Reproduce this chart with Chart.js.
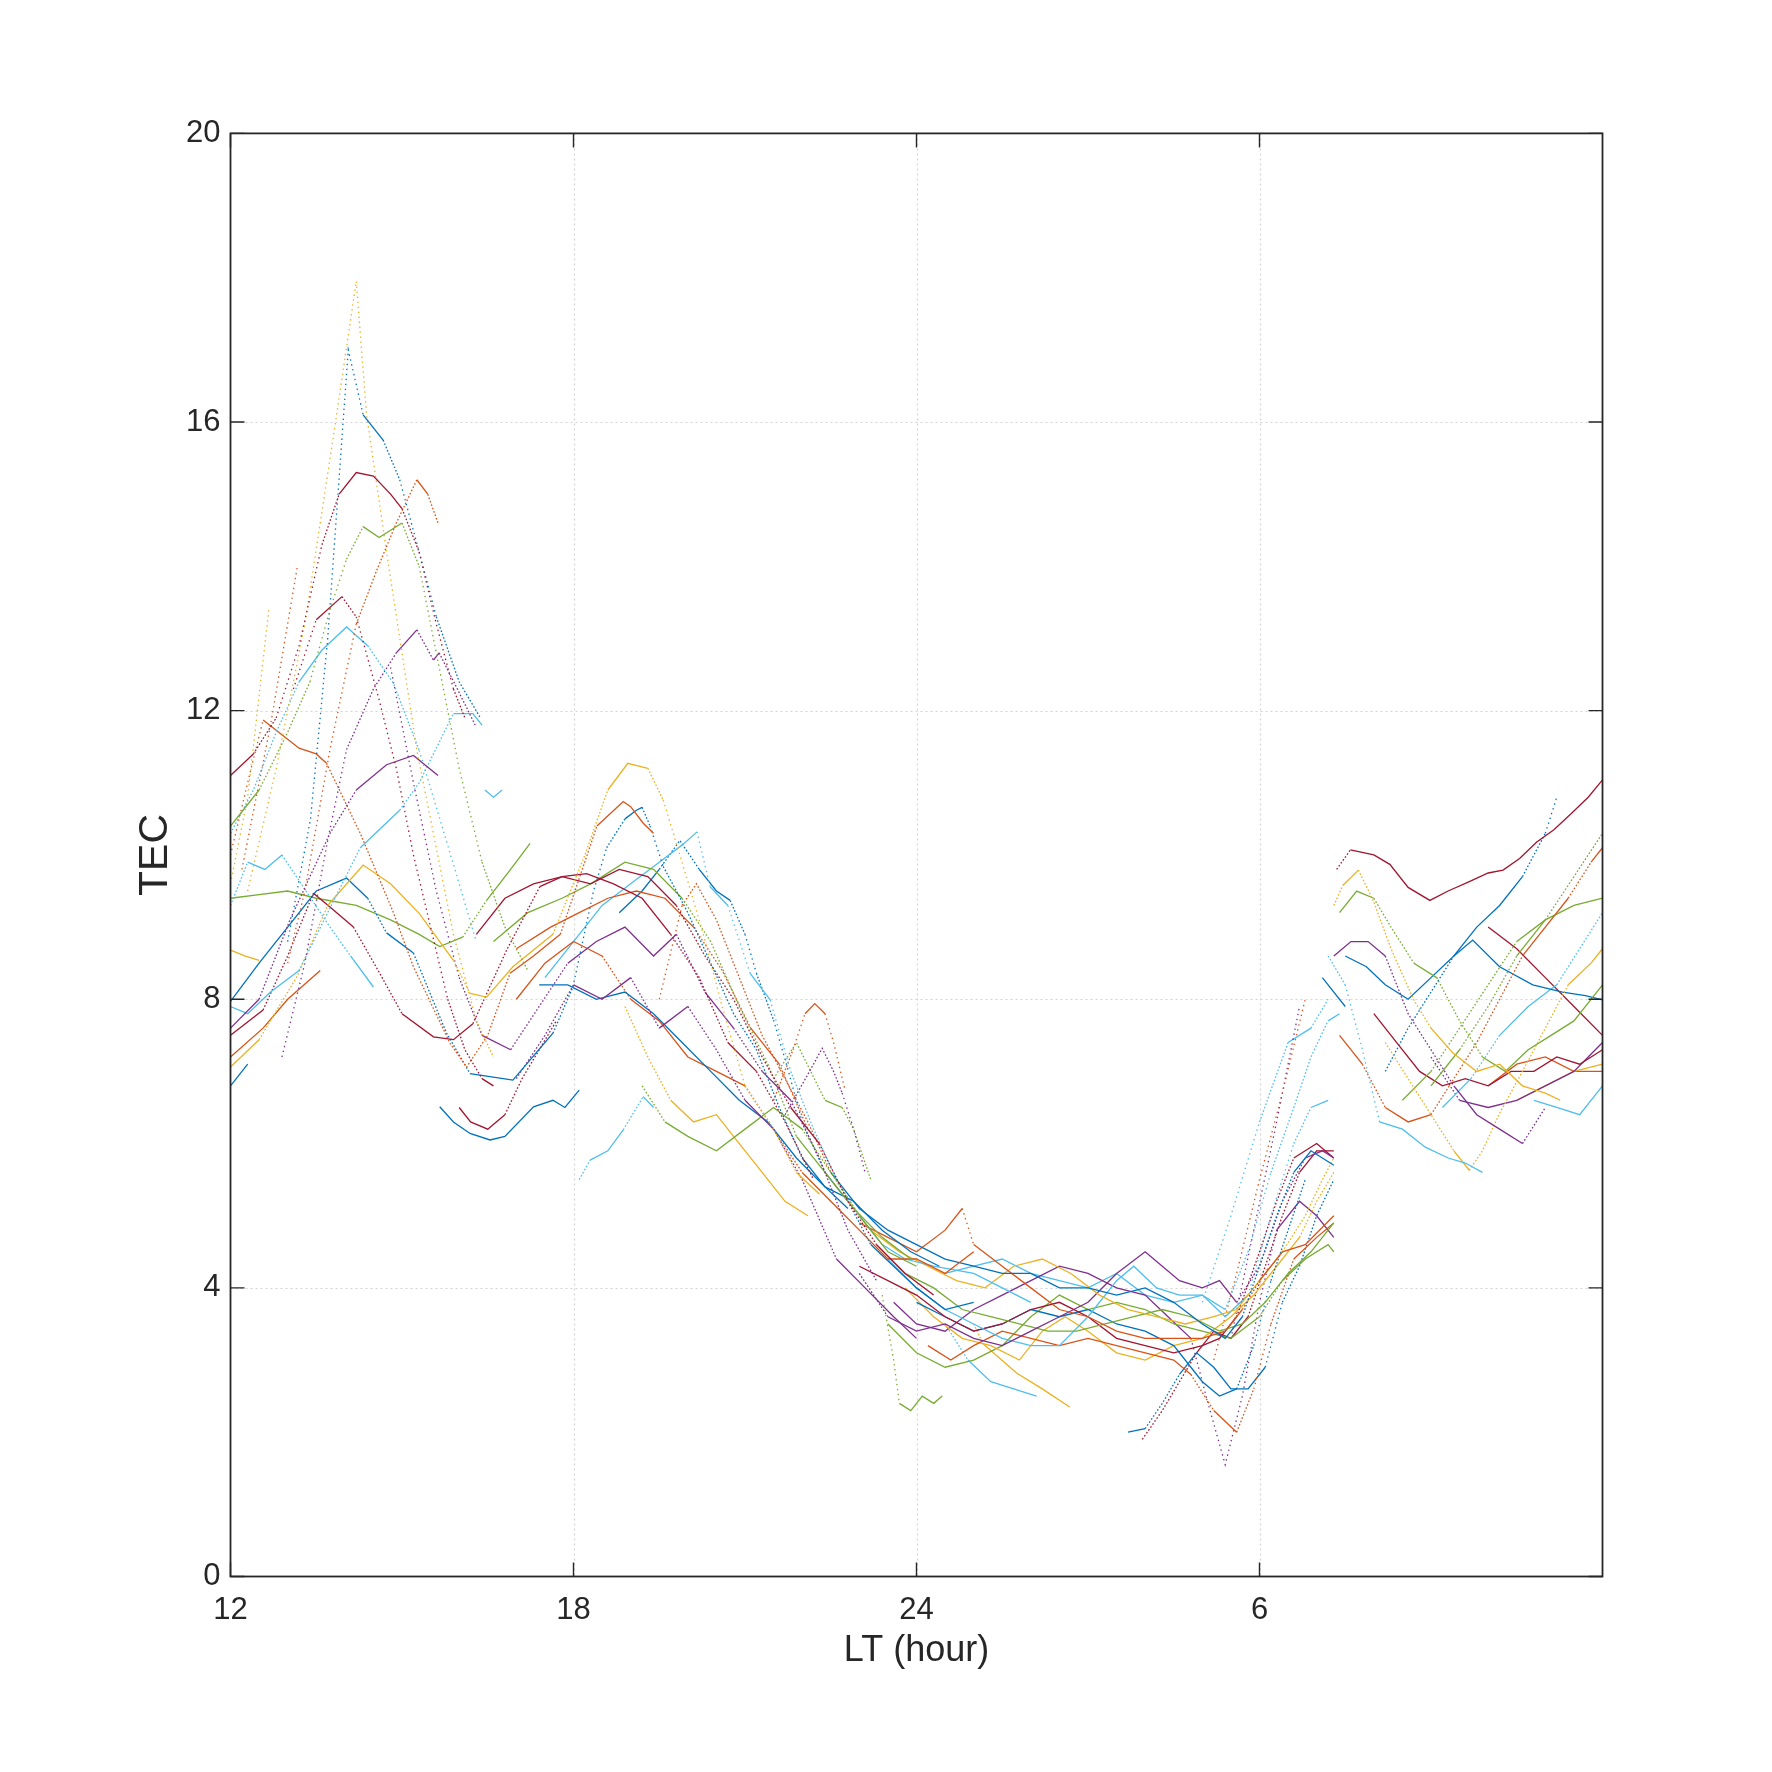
<!DOCTYPE html>
<html>
<head>
<meta charset="utf-8">
<script src="https://cdn.jsdelivr.net/npm/chart.js@4.4.1/dist/chart.umd.min.js"></script>
<style>
html,body{margin:0;padding:0;background:#fff;}
canvas{display:block;}
</style>
</head>
<body>
<canvas id="c" width="1772" height="1772"></canvas>
<script>
// ---------------- DATA ----------------
const xTickValues = [12, 18, 24, 30];
const xTickLabels = ['12', '18', '24', '6'];
const yTickValues = [0, 4, 8, 12, 16, 20];
const xTitle = 'LT (hour)';
const yTitle = 'TEC';

// afternoon arcs  [LT hour, TEC]
const s01 = [[12,11.1],[12.4,11.4],[12.8,11.9],[13.2,12.9],[13.6,14.3],[13.9,15.0],[14.2,15.3],[14.5,15.25],[14.8,15.0],[15.0,14.8],[15.3,14.2],[15.6,13.2],[15.9,12.3],[16.1,11.9]];
const s02 = [[12,10.4],[12.5,10.9],[13.0,11.7],[13.39,12.4],[13.74,13.4],[14.03,14.1],[14.32,14.55],[14.6,14.4],[15.0,14.6],[15.3,14.0],[15.6,12.8],[16.0,11.2],[16.4,9.9],[16.8,9.0],[17.2,8.4]];
const s03 = [[13.0,8.5],[13.3,9.5],[13.74,11.46],[14.2,13.2],[14.56,13.95],[14.9,14.6],[15.26,15.2],[15.45,15.0],[15.63,14.6]];
const s04 = [[13.0,8.8],[13.4,10.5],[13.7,13.0],[14.06,17.0],[14.32,16.1],[14.67,15.75],[14.96,15.2],[15.3,14.2],[15.6,13.3],[16.0,12.4],[16.37,11.9]];
const s05 = [[12.3,9.5],[12.8,11.2],[13.3,13.2],[13.8,15.8],[14.2,17.95],[14.38,16.1],[14.73,14.2],[15.26,11.45],[15.9,8.9],[16.3,7.7],[16.6,7.2]];
const s06 = [[13.1,12.3],[13.5,13.26],[13.95,13.58],[14.2,13.3],[14.6,12.15],[14.9,11.2],[15.2,10.0],[15.5,9.0],[15.8,8.0],[16.1,7.3],[16.4,6.9],[16.6,6.8]];
const s07 = [[12,10.3],[12.4,10.9],[12.8,11.7],[13.2,12.4],[13.6,12.84],[14.03,13.16],[14.4,12.9],[14.85,12.38],[15.3,11.45],[15.7,10.4],[16.0,9.6],[16.3,8.8]];
const s08 = [[12.9,7.2],[13.3,8.5],[13.7,10.2],[14.03,11.46],[14.5,12.3],[14.9,12.8],[15.26,13.12],[15.55,12.7],[15.65,12.8],[16.0,12.25],[16.28,11.8]];
const s09 = [[12,7.6],[12.5,8.0],[13.04,9.1],[13.74,10.3],[14.2,10.9],[14.73,11.25],[15.2,11.38],[15.63,11.1]];
const s10 = [[12,10.0],[12.3,11.0],[12.57,11.87],[13.2,11.48],[13.5,11.4],[13.68,11.27],[14.27,10.3],[14.85,9.2],[15.2,8.45],[15.84,7.39],[16.13,7.06],[16.5,7.5],[16.89,8.36],[17.3,8.6],[17.77,8.9],[18.17,9.84],[18.41,10.4],[18.87,10.74],[19.0,10.67],[19.22,10.44],[19.4,10.3]];
const s11 = [[12,7.9],[12.3,7.8],[12.7,8.1],[13.2,8.4],[13.7,9.2],[14.27,10.1],[14.96,10.62],[15.3,11.0],[15.9,11.96],[16.24,11.96],[16.4,11.8]];
const s12 = [[12,9.3],[12.3,9.9],[12.6,9.8],[12.9,10.0],[13.27,9.56],[13.74,9.0],[14.1,8.6],[14.5,8.17]];
const s13 = [[12,7.06],[12.5,7.44],[13.16,8.31],[13.7,9.3],[14.32,9.86],[14.8,9.6],[15.3,9.19],[15.9,8.54],[16.19,8.08],[16.48,8.03],[16.94,8.45],[17.64,8.9],[18.2,10.0],[18.6,10.9],[18.95,11.27],[19.3,11.2],[19.57,10.76],[19.8,10.16],[20.05,9.5],[20.27,8.9],[20.6,7.9],[21.0,6.8],[21.5,6.2],[21.9,5.6],[22.3,5.3]];
const s14 = [[12,7.5],[12.57,7.85],[13.0,8.6],[13.45,9.47],[13.74,9.28],[14.15,9.0],[14.61,8.36],[15.0,7.8],[15.55,7.48],[15.9,7.44],[16.24,7.66],[16.83,8.68],[17.41,9.56],[17.8,9.7],[18.23,9.74],[18.7,9.6],[19.2,9.4],[19.7,8.9],[20.2,8.3],[20.7,7.4],[21.2,7.0],[21.7,6.3],[22.2,5.5]];
const s15 = [[12,7.97],[12.5,8.5],[13.0,9.0],[13.5,9.5],[14.03,9.68],[14.4,9.4],[14.73,8.92],[15.2,8.64],[15.78,7.53],[16.19,6.97],[16.94,6.88],[17.64,7.53],[17.99,8.17],[18.35,9.5],[18.58,10.1],[18.9,10.5],[19.1,10.62],[19.2,10.66],[19.34,10.4],[19.57,9.84],[19.8,9.5],[20.0,9.2],[20.4,8.5],[20.8,7.8],[21.2,7.3],[21.6,6.5],[22.0,5.8],[22.4,5.4],[22.8,5.1]];
const s16 = [[12,9.4],[12.5,9.45],[13.0,9.5],[13.5,9.4],[14.2,9.3],[14.8,9.1],[15.3,8.9],[15.66,8.73],[16.06,8.86],[16.48,9.37],[16.9,9.8],[17.24,10.16]];
const s17 = [[12,8.68],[12.25,8.6],[12.5,8.54]];
const s18 = [[12,7.2],[12.57,7.6],[13.0,8.0],[13.57,8.4]];
const s19 = [[12,6.8],[12.3,7.1]];
const s20 = [[12,9.6],[12.3,10.8],[12.67,13.4]];
const s21 = [[12.2,9.8],[12.7,11.8],[13.17,14.0]];
const s22 = [[15.66,6.51],[15.9,6.3],[16.19,6.14],[16.54,6.05],[16.8,6.1],[17.3,6.51],[17.64,6.6],[17.85,6.5],[18.1,6.74]];
const s23 = [[16.0,6.5],[16.2,6.3],[16.5,6.2],[16.8,6.4],[17.1,6.9],[17.4,7.3],[17.7,7.7]];
const s24 = [[16.45,10.9],[16.6,10.8],[16.75,10.9]];
const s25 = [[14.8,12.6],[15.2,11.0],[15.6,9.5],[16.0,8.3],[16.4,7.5],[16.9,7.3],[17.4,7.9],[17.9,8.5],[18.4,8.8],[18.9,9.0],[19.4,8.6],[19.8,8.9],[20.3,8.1],[20.8,7.6],[21.3,7.0],[21.8,6.6],[22.3,5.8],[22.8,4.8],[23.3,4.1]];

// evening arcs
const s26 = [[16.3,8.9],[16.8,9.4],[17.3,9.6],[17.8,9.7],[18.3,9.6],[18.8,9.8],[19.3,9.7],[19.8,9.3],[20.3,8.6],[20.8,8.0],[21.3,7.2],[21.8,6.5],[22.3,6.0],[22.8,5.2],[23.3,4.6],[23.8,4.2],[24.3,3.9]];
const s27 = [[16.6,8.8],[17.2,9.2],[17.8,9.4],[18.3,9.6],[18.9,9.9],[19.4,9.8],[19.9,9.4],[20.4,8.8],[20.9,7.9],[21.4,7.1],[21.9,6.1],[22.4,5.6],[22.9,5.1],[23.4,4.7],[23.9,4.4]];
const s28 = [[17.0,8.7],[17.6,9.0],[18.1,9.2],[18.6,9.4],[19.1,9.5],[19.6,9.4],[20.1,9.0],[20.6,8.4],[21.1,7.6],[21.6,7.1],[22.1,6.2]];
const s29 = [[17.0,6.9],[17.5,7.5],[18.0,8.2],[18.5,8.0],[19.0,8.3],[19.5,7.6],[20.0,7.9],[20.5,7.3],[21.0,6.6],[21.5,6.2],[22.0,5.5],[22.6,4.4],[23.1,4.0],[23.6,3.6],[24.0,3.3]];
const s30 = [[17.4,8.2],[17.9,8.2],[18.4,8.0],[18.9,8.1],[19.4,7.8],[19.9,7.4],[20.4,7.0],[20.9,6.6],[21.4,6.3],[21.9,5.8],[22.4,5.4],[22.9,5.2],[23.4,4.8],[23.9,4.5],[24.4,4.3]];
const s31 = [[17.0,8.0],[17.5,8.5],[18.0,8.8],[18.5,8.6],[19.0,8.0],[19.5,7.7],[20.0,7.2],[20.5,7.0],[21.0,6.8],[21.5,6.2],[22.0,5.6],[22.5,5.2],[23.0,4.8],[23.5,4.4],[24.0,4.4],[24.5,4.2],[25.0,4.5]];
const s32 = [[19.2,6.8],[19.6,6.3],[20.0,6.1],[20.5,5.9],[21.0,6.2],[21.5,6.5],[22.0,6.2],[22.5,5.6],[23.0,5.0],[23.5,4.5],[24.0,4.3]];
const s33 = [[18.9,7.9],[19.3,7.2],[19.7,6.6],[20.1,6.3],[20.5,6.4],[20.9,6.0],[21.3,5.6],[21.7,5.2],[22.1,5.0]];
const s34 = [[18.1,5.5],[18.29,5.77],[18.6,5.9],[18.87,6.19],[19.22,6.65],[19.4,6.5]];
const s35 = [[17.5,8.3],[18.0,8.8],[18.5,9.3],[19.0,9.6],[19.5,9.9],[19.92,10.15],[20.16,10.32],[20.39,9.56],[20.7,9.3],[21.09,8.36],[21.44,7.99],[21.8,7.0],[22.2,6.2],[22.6,5.5],[23.0,5.0],[23.4,4.6],[23.8,4.4],[24.3,4.3],[25.0,4.2],[25.5,4.0],[26.0,3.8]];
const s36 = [[18.8,9.2],[19.2,9.5],[19.5,9.8],[19.86,10.2],[20.2,9.8],[20.5,9.5],[20.74,9.37],[21.0,8.9],[21.2,8.36],[21.5,7.71],[21.74,7.06],[22.0,6.3],[22.4,5.6],[22.8,5.2],[23.2,4.6],[23.6,4.3],[24.0,4.0],[24.5,3.7],[25.0,3.8]];
const s37 = [[19.5,8.0],[19.9,9.3],[20.15,9.6],[20.5,9.1],[20.9,8.3],[21.3,7.5],[21.7,6.9],[22.1,6.3],[22.5,5.6]];
const s38 = [[21.5,6.6],[21.84,7.3],[22.05,7.8],[22.22,7.94],[22.4,7.8],[22.55,7.4],[22.75,6.74]];
const s39 = [[21.7,6.4],[22.08,6.93],[22.35,7.32],[22.55,7.0],[22.7,6.7],[22.9,6.2],[23.1,5.6]];
const s40 = [[21.5,6.9],[21.9,7.4],[22.15,7.0],[22.4,6.6],[22.7,6.5],[22.9,6.2],[23.2,5.5]];

// night and dawn arcs
const s41 = [[22.5,5.6],[23.0,5.1],[23.5,4.8],[24.0,4.6],[24.5,4.4],[25.0,4.3],[25.5,4.2],[26.0,4.2],[26.5,4.0],[27.0,4.0],[27.5,3.9],[28.0,4.0],[28.5,3.8],[29.0,3.5],[29.4,3.3],[29.7,3.6],[30.0,4.3],[30.3,5.0],[30.6,5.6],[30.9,5.9],[31.3,5.7]];
const s42 = [[23.0,4.9],[23.5,4.7],[24.0,4.5],[24.5,4.8],[24.8,5.1],[25.0,4.6],[25.5,4.3],[26.0,4.0],[26.5,3.7],[27.0,3.6],[27.5,3.4],[28.0,3.3],[28.5,3.3],[29.0,3.3],[29.4,3.4],[29.7,3.7],[30.0,4.1],[30.4,4.5],[30.8,4.6],[31.3,5.0]];
const s43 = [[23.2,4.8],[23.7,4.5],[24.2,4.3],[24.7,4.1],[25.2,4.0],[25.7,4.3],[26.2,4.4],[26.7,4.2],[27.2,3.9],[27.7,3.7],[28.2,3.6],[28.7,3.5],[29.2,3.6],[29.6,3.7],[30.0,4.1],[30.4,4.5],[30.8,5.0],[31.1,5.5],[31.3,5.8]];
const s44 = [[23.0,4.2],[23.5,3.6],[24.0,3.4],[24.5,3.5],[25.0,3.3],[25.5,3.2],[26.0,3.4],[26.5,3.6],[27.0,3.8],[27.5,4.2],[28.0,4.5],[28.3,4.3],[28.6,4.1],[29.0,4.0],[29.3,4.1],[29.6,3.8],[30.0,4.3],[30.4,5.2],[30.8,5.8],[31.1,5.9],[31.3,5.8]];
const s45 = [[23.3,4.6],[23.8,4.2],[24.3,4.0],[24.8,3.7],[25.3,3.6],[25.8,3.5],[26.3,3.4],[26.8,3.4],[27.3,3.5],[27.8,3.6],[28.3,3.7],[28.8,3.6],[29.3,3.4],[29.7,3.5],[30.1,3.8],[30.5,4.2],[30.9,4.5],[31.3,4.9]];
const s46 = [[23.5,4.4],[24.0,4.0],[24.5,3.7],[25.0,3.5],[25.5,3.3],[26.0,3.2],[26.5,3.2],[27.0,3.6],[27.5,4.1],[27.8,4.3],[28.2,4.0],[28.6,3.9],[29.0,3.9],[29.4,3.7],[29.8,4.5],[30.2,5.6],[30.6,6.5],[30.9,7.2],[31.2,7.7],[31.4,7.8]];
const s47 = [[23.0,4.3],[23.5,4.1],[24.0,3.9],[24.5,3.6],[25.0,3.4],[25.5,3.5],[26.0,3.7],[26.5,3.8],[27.0,3.6],[27.5,3.3],[28.0,3.2],[28.5,3.1],[29.0,3.2],[29.3,3.3],[29.6,3.6],[30.0,4.5],[30.3,5.2],[30.6,5.8],[31.0,6.0],[31.3,5.8]];
const s48 = [[24.0,3.8],[24.5,3.6],[25.0,3.4],[25.5,3.5],[26.0,3.7],[26.5,3.6],[27.0,3.7],[27.5,3.5],[28.0,3.4],[28.5,3.2],[29.0,2.7],[29.3,2.5],[29.6,2.6],[29.9,3.2],[30.2,4.1],[30.5,4.8],[30.8,5.5]];
const s49 = [[24.2,3.2],[24.6,3.0],[25.0,3.2],[25.5,3.4],[26.0,3.3],[26.5,3.2],[27.0,3.3],[27.5,3.2],[28.0,3.1],[28.5,3.0],[28.8,2.8],[29.2,2.3],[29.6,2.0],[29.9,2.6],[30.2,3.5],[30.6,4.4],[31.0,4.7],[31.3,4.9]];
const s50 = [[23.8,4.0],[24.3,3.6],[24.8,3.3],[25.3,3.2],[25.8,3.0],[26.2,3.4],[26.6,3.6],[27.0,3.4],[27.5,3.1],[28.0,3.0],[28.5,3.2],[29.0,3.3],[29.5,3.6],[29.9,3.9],[30.3,4.3],[30.7,4.7],[31.0,5.2],[31.3,5.6]];
const s51 = [[23.5,3.5],[24.0,3.1],[24.5,2.9],[25.0,3.0],[25.5,3.2],[26.0,3.6],[26.5,3.9],[27.0,3.7],[27.5,3.8],[28.0,3.7],[28.5,3.5],[29.0,3.4],[29.5,3.3],[30.0,3.6],[30.4,4.1],[30.8,4.4],[31.2,4.6],[31.3,4.5]];
const s52 = [[23.6,3.8],[24.0,3.5],[24.5,3.4],[25.0,3.7],[25.5,3.9],[26.0,4.1],[26.5,4.3],[27.0,4.2],[27.5,4.0],[28.0,3.9],[28.4,3.6],[28.8,3.3],[29.1,2.4],[29.4,1.55],[29.7,2.5],[30.0,3.8],[30.3,4.8],[30.7,5.2],[31.0,5.0],[31.3,4.7]];
const s53 = [[24.5,4.2],[25.0,4.3],[25.5,4.4],[26.0,4.2],[26.5,4.1],[27.0,4.0],[27.5,4.2],[28.0,3.9],[28.5,3.8],[29.0,3.9],[29.4,3.6],[29.8,3.9],[30.2,5.0],[30.6,6.0],[30.9,6.5],[31.2,6.6]];
const s54 = [[27.7,2.0],[28.0,2.05],[28.3,2.4],[28.6,2.8],[28.9,3.1],[29.2,2.9],[29.5,2.6],[29.8,2.6],[30.1,2.9],[30.4,3.8],[30.7,4.3],[31.0,5.0],[31.3,5.5]];
const s55 = [[27.95,1.9],[28.3,2.3],[28.6,2.7],[28.9,3.1],[29.2,3.4],[29.5,3.3],[29.8,3.6],[30.1,4.3],[30.4,5.0],[30.7,5.6],[31.0,5.9],[31.3,5.9]];
const s56 = [[23.4,3.9],[23.6,3.0],[23.7,2.4],[23.9,2.3],[24.1,2.5],[24.3,2.4],[24.45,2.5]];
const s57 = [[24.5,3.5],[24.9,3.0],[25.3,2.7],[25.7,2.6],[26.1,2.5]];
const s58 = [[25.0,3.5],[25.16,3.23],[25.75,2.82],[26.2,2.6],[26.68,2.35]];
const s59 = [[29.2,3.0],[29.6,4.2],[30.0,5.5],[30.4,6.7],[30.8,8.0]];
const s60 = [[29.5,3.3],[29.9,4.8],[30.3,6.3],[30.7,7.9]];
const s61 = [[29.0,3.8],[29.5,5.0],[30.0,6.3],[30.5,7.4],[30.9,7.6],[31.2,8.0]];

// morning arcs
const s62 = [[31.35,9.8],[31.59,10.07],[32.0,10.0],[32.28,9.87],[32.6,9.55],[32.98,9.37],[33.3,9.5],[33.67,9.63],[34.0,9.75],[34.26,9.79],[34.55,9.95],[34.85,10.18],[35.15,10.35],[35.45,10.57],[35.75,10.8],[36,11.04]];
const s63 = [[31.3,9.3],[31.46,9.58],[31.73,9.79],[31.99,9.37],[32.3,8.7],[32.7,7.99],[33.0,7.6],[33.39,7.25],[33.8,7.0],[34.2,7.1],[34.6,6.8],[35.0,6.7],[35.26,6.6]];
const s64 = [[31.4,9.2],[31.7,9.5],[32.0,9.4],[32.3,9.0],[32.7,8.5],[33.1,8.3],[33.5,7.7],[33.9,7.2],[34.3,7.0],[34.7,7.3],[35.1,7.5],[35.5,7.7],[36,8.2]];
const s65 = [[31.3,8.6],[31.6,8.8],[31.9,8.8],[32.2,8.6],[32.6,7.8],[33.0,7.3],[33.4,6.8],[33.8,6.4],[34.2,6.2],[34.6,6.0],[35.0,6.5]];
const s66 = [[31.1,8.3],[31.3,8.1],[31.5,7.9]];
const s67 = [[31.2,8.6],[31.5,8.2],[31.8,7.3],[32.1,6.3],[32.5,6.2],[32.9,5.95],[33.3,5.8],[33.6,5.73],[33.9,5.6]];
const s68 = [[32.2,7.4],[32.6,6.9],[33.0,6.4],[33.4,5.9],[33.67,5.63],[33.9,5.9],[34.2,6.42],[34.6,7.0],[35.0,7.6],[35.4,8.2],[35.8,8.5],[36,8.7]];
const s69 = [[31.4,7.5],[31.8,7.1],[32.2,6.5],[32.6,6.3],[33.0,6.4],[33.4,6.9],[33.8,7.4],[34.2,8.0],[34.6,8.6],[35.0,9.0],[35.4,9.4],[35.8,9.9],[36,10.1]];
const s70 = [[31.5,8.6],[31.87,8.45],[32.2,8.2],[32.6,8.0],[33.0,8.3],[33.4,8.6],[33.73,8.82],[34.2,8.45],[34.78,8.2],[35.3,8.1],[35.7,8.05],[36,7.99]];
const s71 = [[32.2,7.0],[32.6,7.6],[33.0,8.1],[33.4,8.6],[33.8,9.0],[34.2,9.3],[34.6,9.7],[35.0,10.3],[35.2,10.8]];
const s72 = [[32.5,6.6],[33.0,7.0],[33.5,7.6],[34.0,8.2],[34.5,8.8],[35.0,9.1],[35.5,9.3],[36,9.4]];
const s73 = [[33.0,6.8],[33.5,7.3],[34.0,7.9],[34.5,8.6],[35.0,9.1],[35.5,9.7],[36,10.3]];
const s74 = [[33.2,6.5],[33.7,6.9],[34.2,7.5],[34.7,7.9],[35.2,8.2],[35.6,8.7],[36,9.2]];
const s75 = [[32.0,7.8],[32.4,7.4],[32.8,7.0],[33.2,6.8],[33.6,6.9],[34.0,6.8],[34.4,7.0],[34.8,7.0],[35.2,7.2],[35.6,7.1],[36,7.3]];
const s76 = [[34.0,9.0],[34.5,8.7],[35.0,8.3],[35.5,7.9],[36,7.5]];
const s77 = [[33.0,7.2],[33.5,6.6],[34.0,6.5],[34.5,6.6],[35.0,6.8],[35.5,7.0],[36,7.4]];
const s78 = [[34.5,6.6],[35.0,6.8],[35.5,7.0],[36,7.1]];
const s79 = [[34.0,6.8],[34.5,7.1],[35.0,7.2],[35.5,7.0],[36,7.0]];
const s80 = [[34.8,6.6],[35.2,6.5],[35.6,6.4],[36,6.8]];

const allSeries = [s01,s02,s03,s04,s05,s06,s07,s08,s09,s10,s11,s12,s13,s14,s15,s16,s17,s18,s19,s20,
  s21,s22,s23,s24,s25,s26,s27,s28,s29,s30,s31,s32,s33,s34,s35,s36,s37,s38,s39,s40,
  s41,s42,s43,s44,s45,s46,s47,s48,s49,s50,s51,s52,s53,s54,s55,s56,s57,s58,s59,s60,
  s61,s62,s63,s64,s65,s66,s67,s68,s69,s70,s71,s72,s73,s74,s75,s76,s77,s78,s79,s80];

// ---------------- STYLE ----------------
const palette = {
  blue:'#0072BD', orange:'#D95319', yellow:'#EDB120', purple:'#7E2F8E',
  green:'#77AC30', lightblue:'#4DBEEE', darkred:'#A2142F'
};
const seriesColor = [
  'darkred','green','orange','blue','yellow','darkred','lightblue','purple','purple','orange',
  'lightblue','lightblue','yellow','darkred','blue','green','yellow','orange','blue','yellow',
  'orange','blue','darkred','lightblue','purple','darkred','green','orange','purple','blue',
  'orange','green','yellow','lightblue','lightblue','blue','orange','orange','purple','green',
  'blue','orange','yellow','purple','green','lightblue','darkred','blue','orange','yellow',
  'green','purple','lightblue','blue','darkred','green','lightblue','yellow','orange','purple',
  'lightblue','darkred','yellow','green','purple','blue','lightblue','yellow','orange','blue',
  'blue','green','green','lightblue','darkred','darkred','purple','yellow','orange','lightblue'
];

const FONT = '"Liberation Sans", Arial, Helvetica, sans-serif';
const AXIS_COLOR = '#262626';

function steepDash(ctx) {
  const dx = Math.abs(ctx.p1.x - ctx.p0.x);
  const dy = Math.abs(ctx.p1.y - ctx.p0.y);
  const s = dy / Math.max(dx, 0.001);
  if (s > 3) return [1.4, 3.6];
  if (s > 1.4) return [1.6, 2];
  return undefined;
}

const datasets = allSeries.map((arc, i) => ({
  data: arc.map(p => ({x: p[0], y: p[1]})),
  borderColor: palette[seriesColor[i]],
  borderWidth: 1.3,
  pointRadius: 0,
  tension: 0,
  fill: false,
  segment: { borderDash: steepDash }
}));

const framePlugin = {
  id: 'frame',
  beforeDatasetsDraw(chart) {
    const {ctx, chartArea: a, scales: {x, y}} = chart;
    ctx.save();
    ctx.strokeStyle = '#d4d4d4';
    ctx.lineWidth = 1.2;
    ctx.setLineDash([2, 3]);
    xTickValues.forEach(v => {
      const px = Math.round(x.getPixelForValue(v)) + 0.5;
      if (px <= a.left + 2 || px >= a.right - 2) return;
      ctx.beginPath(); ctx.moveTo(px, a.top); ctx.lineTo(px, a.bottom); ctx.stroke();
    });
    yTickValues.forEach(v => {
      const py = Math.round(y.getPixelForValue(v)) + 0.5;
      if (py <= a.top + 2 || py >= a.bottom - 2) return;
      ctx.beginPath(); ctx.moveTo(a.left, py); ctx.lineTo(a.right, py); ctx.stroke();
    });
    ctx.restore();
  },
  afterDatasetsDraw(chart) {
    const {ctx, chartArea: a, scales: {x, y}} = chart;
    ctx.save();
    ctx.setLineDash([]);
    ctx.strokeStyle = AXIS_COLOR;
    ctx.lineWidth = 1.8;
    ctx.strokeRect(a.left, a.top, a.right - a.left, a.bottom - a.top);
    const L = 14;
    ctx.lineWidth = 1.4;
    xTickValues.forEach(v => {
      const px = x.getPixelForValue(v);
      ctx.beginPath();
      ctx.moveTo(px, a.bottom); ctx.lineTo(px, a.bottom - L);
      ctx.moveTo(px, a.top); ctx.lineTo(px, a.top + L);
      ctx.stroke();
    });
    yTickValues.forEach(v => {
      const py = y.getPixelForValue(v);
      ctx.beginPath();
      ctx.moveTo(a.left, py); ctx.lineTo(a.left + L, py);
      ctx.moveTo(a.right, py); ctx.lineTo(a.right - L, py);
      ctx.stroke();
    });
    ctx.restore();
  }
};

new Chart(document.getElementById('c'), {
  type: 'line',
  data: { datasets },
  options: {
    responsive: false,
    animation: false,
    devicePixelRatio: 1,
    layout: { padding: { left: 0, right: 169.5, top: 133.4, bottom: 0 } },
    plugins: { legend: { display: false }, tooltip: { enabled: false } },
    elements: { point: { radius: 0 } },
    scales: {
      x: {
        type: 'linear', min: 12, max: 36,
        afterBuildTicks: s => { s.ticks = xTickValues.map(v => ({value: v})); },
        afterFit: s => { s.height = 195.5; },
        grid: { display: false, drawTicks: false },
        border: { display: false },
        ticks: {
          autoSkip: false, maxRotation: 0, padding: 15,
          color: AXIS_COLOR, font: { family: FONT, size: 31 },
          callback: v => { const i = xTickValues.indexOf(v); return i >= 0 ? xTickLabels[i] : ''; }
        },
        title: {
          display: true, text: xTitle, color: AXIS_COLOR,
          font: { family: FONT, size: 36 }, padding: { top: 0, bottom: 99 }
        }
      },
      y: {
        min: 0, max: 20,
        afterBuildTicks: s => { s.ticks = yTickValues.map(v => ({value: v})); },
        afterFit: s => { s.width = 230.5; },
        grid: { display: false, drawTicks: false },
        border: { display: false },
        ticks: {
          padding: 10, color: AXIS_COLOR, font: { family: FONT, size: 31 },
          callback: v => String(v)
        },
        title: {
          display: true, text: yTitle, color: AXIS_COLOR,
          font: { family: FONT, size: 41 }, padding: { top: 131, bottom: 0 }
        }
      }
    }
  },
  plugins: [framePlugin]
});
</script>
</body>
</html>
